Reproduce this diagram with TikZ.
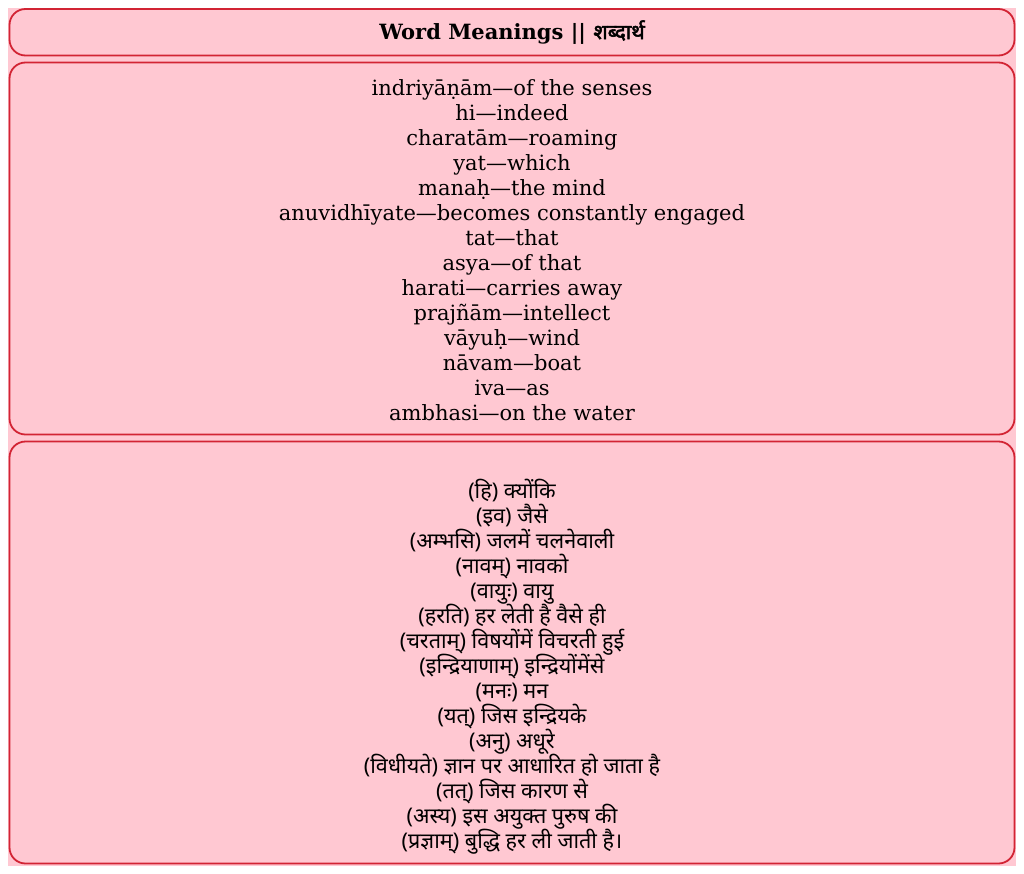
\documentclass[tikz,border=0pt]{standalone}
\usepackage{fontspec}
\setmainfont{DejaVu Serif}
\newfontfamily\devfont[Script=Devanagari]{Noto Sans}
\newfontfamily\devbold[Script=Devanagari,FakeBold=2.5]{Noto Sans}
\definecolor{boxpink}{RGB}{255,200,210}
\definecolor{boxred}{RGB}{210,36,52}
\setlength{\lineskiplimit}{-100pt}
\begin{document}
\begin{tikzpicture}[x=1pt,y=-1pt,
	box/.style={draw=boxred, fill=boxpink, rounded corners=16pt, line width=1.8pt,
		minimum width=1005pt, align=center, inner sep=0pt},
	eng/.style={font=\fontsize{21}{25}\selectfont},
	dev/.style={font=\devfont\fontsize{21.6}{25}\selectfont}]
\useasboundingbox (0,0) rectangle (1024,873);
\fill[boxpink] (8,8) rectangle (1016,866);
\node[box, minimum height=46.5pt, font=\bfseries\fontsize{21}{25}\selectfont](title) at (512,32.25)
	{Word Meanings || {\devbold शब्दार्थ}};
\node[box, eng, minimum height=372pt](words) at (512,248.5)
	{\rule{0pt}{20pt}indriyāṇām—of the senses\\ hi—indeed\\ charatām—roaming\\ yat—which\\
	 manaḥ—the mind\\ anuvidhīyate—becomes constantly engaged\\ tat—that\\
	 asya—of that\\ harati—carries away\\ prajñām—intellect\\ vāyuḥ—wind\\
	 nāvam—boat\\ iva—as\\ ambhasi—on the water};
\node[box, dev, minimum height=422pt](arth) at (512,652.5)
	{\rule{0pt}{23.5pt}\\ (हि) क्योंकि\\ (इव) जैसे\\ (अम्भसि) जलमें चलनेवाली\\ (नावम्) नावको\\
	 (वायुः) वायु\\ (हरति) हर लेती है वैसे ही\\ (चरताम्) विषयोंमें विचरती हुई\\
	 (इन्द्रियाणाम्) इन्द्रियोंमेंसे\\ (मनः) मन\\ (यत्) जिस इन्द्रियके\\ (अनु) अधूरे\\
	 (विधीयते) ज्ञान पर आधारित हो जाता है\\ (तत्) जिस कारण से\\
	 (अस्य) इस अयुक्त पुरुष की\\ (प्रज्ञाम्) बुद्धि हर ली जाती है।};
\end{tikzpicture}
\end{document}
